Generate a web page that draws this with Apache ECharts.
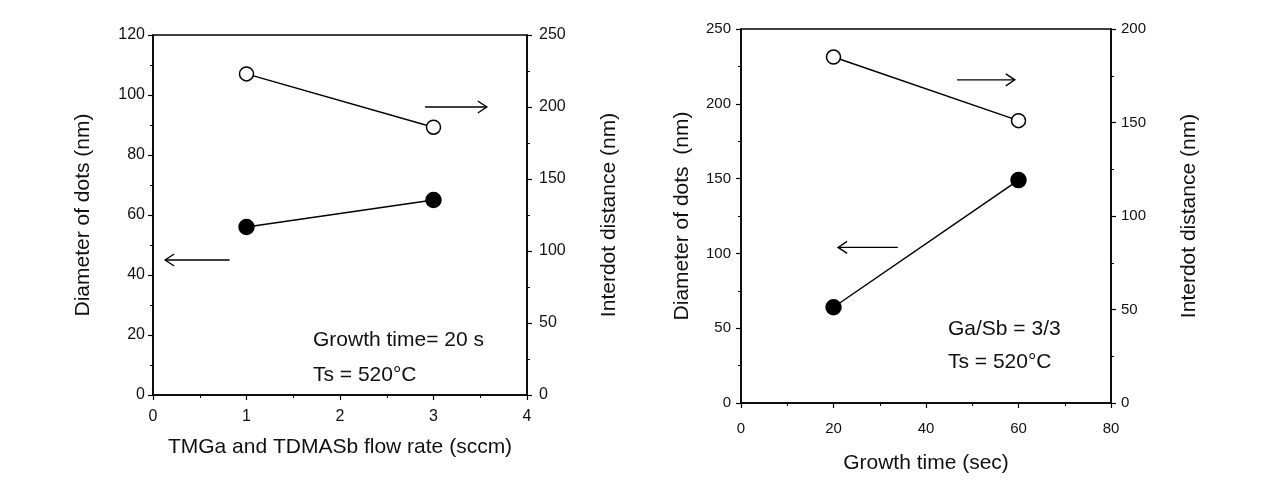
<!DOCTYPE html>
<html>
<head>
<meta charset="utf-8">
<script src="https://cdn.jsdelivr.net/npm/echarts@6/dist/echarts.min.js"></script>
<style>
  html, body { margin: 0; padding: 0; background: #fff; }
  #main { width: 1261px; height: 495px; }
</style>
</head>
<body>
<div id="main"></div>
<script>
// left panel: flow rate
const flowRate = [1, 3];
const flowDiameter = [56, 65];       // left axis, filled
const flowInterdot = [223, 186];     // right axis, open
// right panel: growth time
const growthTime = [20, 60];
const timeDiameter = [64, 149];      // left axis, filled
const timeInterdot = [185, 151];     // right axis, open

// arrows [x0, y0, x1, y1] in data units (on the left axis of each panel)
const flowArrows = [[0.82, 45, 0.13, 45], [2.91, 96, 3.57, 96]];
const timeArrows = [[33.9, 104, 21, 104], [46.7, 216, 59.2, 216]];

const FONT = 'Liberation Sans';
const chart = echarts.init(document.getElementById('main'));

// axis helper
function axis(opt) {
  return Object.assign({
    type: 'value',
    axisLine: { show: true, lineStyle: { color: '#000', width: 1.5 } },
    axisTick: { show: true, length: 5, lineStyle: { color: '#000', width: 1.2 } },
    minorTick: { show: true, splitNumber: 2, length: 3, lineStyle: { color: '#000', width: 1 } },
    splitLine: { show: false },
    axisLabel: { color: '#111', fontFamily: FONT, fontSize: 16 },
    nameLocation: 'middle',
    nameTextStyle: { color: '#111', fontFamily: FONT, fontSize: 21 }
  }, opt);
}

function arrowSeries(arrows, xi, yi) {
  return {
    type: 'custom',
    xAxisIndex: xi,
    yAxisIndex: yi,
    silent: true,
    data: arrows,
    renderItem(params, api) {
      const p0 = api.coord([api.value(0), api.value(1)]);
      const p1 = api.coord([api.value(2), api.value(3)]);
      const dir = Math.sign(p1[0] - p0[0]);
      const style = { stroke: '#000', lineWidth: 1.4, fill: null };
      return {
        type: 'group',
        children: [
          { type: 'line', shape: { x1: p0[0], y1: p0[1], x2: p1[0], y2: p1[1] }, style },
          { type: 'polyline', shape: { points: [[p1[0] - dir * 9, p1[1] - 6], [p1[0], p1[1]], [p1[0] - dir * 9, p1[1] + 6]] }, style }
        ]
      };
    }
  };
}

function lineSeries(xs, ys, xi, yi, filled) {
  return {
    type: 'line',
    xAxisIndex: xi,
    yAxisIndex: yi,
    data: xs.map((x, i) => [x, ys[i]]),
    symbol: 'circle',
    symbolSize: filled ? 15 : 14,
    lineStyle: { color: '#000', width: 1.5 },
    itemStyle: { color: filled ? '#000' : '#fff', borderColor: '#000', borderWidth: 1.5 },
    animation: false,
    z: 3
  };
}

const textStyle = { fill: '#111', fontFamily: FONT, fontSize: 21 };

chart.setOption({
  backgroundColor: '#fff',
  animation: false,
  grid: [
    { left: 153, top: 35, width: 374, height: 360, show: true, borderColor: '#000', borderWidth: 1.5 },
    { left: 741, top: 29, width: 370, height: 374, show: true, borderColor: '#000', borderWidth: 1.5 }
  ],
  xAxis: [
    axis({ gridIndex: 0, min: 0, max: 4, interval: 1, name: 'TMGa and TDMASb flow rate (sccm)', nameGap: 42,
      axisLabel: { color: '#111', fontFamily: FONT, fontSize: 16, margin: 14 } }),
    axis({ gridIndex: 1, min: 0, max: 80, interval: 20, name: 'Growth time (sec)', nameGap: 50,
      axisLabel: { color: '#111', fontFamily: FONT, fontSize: 15, margin: 18 } })
  ],
  yAxis: [
    axis({ gridIndex: 0, min: 0, max: 120, interval: 20, name: 'Diameter of dots (nm)', nameGap: 59 }),
    axis({ gridIndex: 0, position: 'right', min: 0, max: 250, interval: 50, name: 'Interdot distance (nm)', nameGap: 72,
      axisLabel: { color: '#111', fontFamily: FONT, fontSize: 16, margin: 12 } }),
    axis({ gridIndex: 1, min: 0, max: 250, interval: 50, name: 'Diameter of dots  (nm)', nameGap: 48,
      axisLabel: { color: '#111', fontFamily: FONT, fontSize: 15, margin: 10 } }),
    axis({ gridIndex: 1, position: 'right', min: 0, max: 200, interval: 50, name: 'Interdot distance (nm)', nameGap: 68,
      axisLabel: { color: '#111', fontFamily: FONT, fontSize: 15, margin: 10 } })
  ],
  series: [
    lineSeries(flowRate, flowDiameter, 0, 0, true),
    lineSeries(flowRate, flowInterdot, 0, 1, false),
    lineSeries(growthTime, timeDiameter, 1, 2, true),
    lineSeries(growthTime, timeInterdot, 1, 3, false),
    arrowSeries(flowArrows, 0, 0),
    arrowSeries(timeArrows, 1, 2)
  ],
  graphic: [
    { type: 'text', left: 313, top: 330, style: Object.assign({ text: 'Growth time= 20 s' }, textStyle) },
    { type: 'text', left: 313, top: 365, style: Object.assign({ text: 'Ts = 520°C' }, textStyle) },
    { type: 'text', left: 948, top: 319, style: Object.assign({ text: 'Ga/Sb = 3/3' }, textStyle) },
    { type: 'text', left: 948, top: 352, style: Object.assign({ text: 'Ts = 520°C' }, textStyle) }
  ]
});
</script>
</body>
</html>
